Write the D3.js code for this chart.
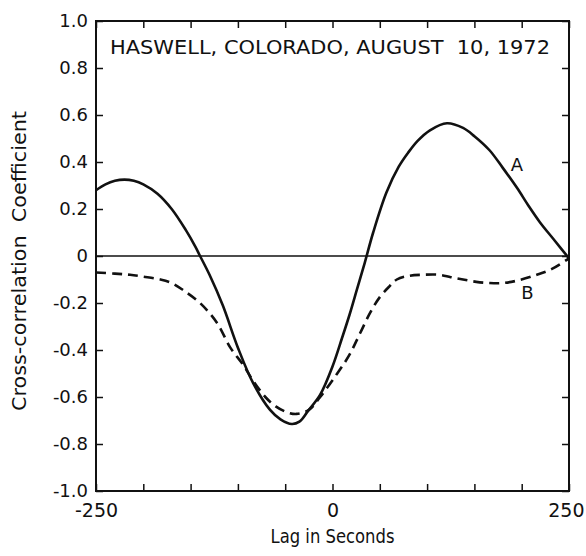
<!DOCTYPE html>
<html>
<head>
<meta charset="utf-8">
<script src="https://cdn.jsdelivr.net/npm/d3@7.9.0/dist/d3.min.js"></script>
<style>
  body { margin: 0; background: #fff; }
  svg { display: block; }
  text { font-family: "DejaVu Sans", sans-serif; fill: #111; }
</style>
</head>
<body>
<div id="chart"></div>
<script>
// curve A: solid line
const lagsA = [-250, -240, -230, -220, -210, -200, -185, -170, -155, -145, -140, -130, -116, -100, -84, -66, -55, -43, -35, -26, -13, 0, 10, 18, 26, 34, 43, 57, 70, 80, 90, 103, 121, 138, 150, 166, 180, 195, 207, 219, 235, 250];
const corrA = [0.28, 0.305, 0.32, 0.325, 0.32, 0.305, 0.265, 0.2, 0.11, 0.04, 0.0, -0.08, -0.21, -0.39, -0.54, -0.655, -0.695, -0.715, -0.705, -0.66, -0.59, -0.47, -0.35, -0.25, -0.14, -0.03, 0.1, 0.27, 0.38, 0.44, 0.49, 0.535, 0.565, 0.545, 0.51, 0.45, 0.375, 0.29, 0.215, 0.145, 0.065, -0.01];

// curve B: dashed line
const lagsB = [-250, -230, -214, -200, -182, -170, -158, -140, -122, -108, -95, -84, -71, -60, -48, -38, -25, -13, 5, 18, 29, 40, 50, 60, 68, 80, 95, 113, 125, 138, 152, 166, 180, 195, 216, 232, 250];
const corrB = [-0.07, -0.075, -0.08, -0.088, -0.1, -0.115, -0.145, -0.2, -0.285, -0.39, -0.46, -0.53, -0.6, -0.64, -0.665, -0.672, -0.655, -0.6, -0.5, -0.42, -0.33, -0.24, -0.175, -0.13, -0.1, -0.085, -0.08, -0.08, -0.09, -0.1, -0.11, -0.115, -0.115, -0.105, -0.08, -0.055, -0.01];

const xTicks = [-250, -200, -150, -100, -50, 0, 50, 100, 150, 200, 250];
const xLabels = [-250, 0, 250];
const yTicks = [-1.0, -0.8, -0.6, -0.4, -0.2, 0, 0.2, 0.4, 0.6, 0.8, 1.0];

const title = "HASWELL, COLORADO, AUGUST  10, 1972";

const width = 586, height = 556;
const margin = { top: 21, right: 17, bottom: 65, left: 96 };

const svg = d3.select("#chart")
  .append("svg")
  .attr("width", width)
  .attr("height", height);

const x = d3.scaleLinear().domain([-250, 250]).range([margin.left, width - margin.right]);
const y = d3.scaleLinear().domain([-1, 1]).range([height - margin.bottom, margin.top]);

const tick = 7;

// left axis with labels
svg.append("g")
  .attr("transform", `translate(${margin.left},0)`)
  .call(d3.axisLeft(y).tickValues(yTicks).tickSize(-tick).tickPadding(8)
    .tickFormat(d => d === 0 ? "0" : d.toFixed(1)))
  .call(g => g.select(".domain").remove())
  .call(g => g.selectAll("line").attr("stroke", "#111").attr("stroke-width", 1.5))
  .call(g => g.selectAll("text").attr("font-size", 18).attr("font-family", "DejaVu Sans"));

// right axis ticks
svg.append("g")
  .attr("transform", `translate(${width - margin.right},0)`)
  .call(d3.axisRight(y).tickValues(yTicks).tickSize(-tick).tickFormat(""))
  .call(g => g.select(".domain").remove())
  .call(g => g.selectAll("line").attr("stroke", "#111").attr("stroke-width", 1.5));

// top axis ticks
svg.append("g")
  .attr("transform", `translate(0,${margin.top})`)
  .call(d3.axisTop(x).tickValues(xTicks).tickSize(-tick).tickFormat(""))
  .call(g => g.select(".domain").remove())
  .call(g => g.selectAll("line").attr("stroke", "#111").attr("stroke-width", 1.5));

// bottom axis with labels; the last one is pulled in so it stays on the page
svg.append("g")
  .attr("transform", `translate(0,${height - margin.bottom})`)
  .call(d3.axisBottom(x).tickValues(xTicks).tickSize(-tick)
    .tickFormat(d => xLabels.includes(d) ? String(d) : ""))
  .call(g => g.select(".domain").remove())
  .call(g => g.selectAll("line").attr("stroke", "#111").attr("stroke-width", 1.5))
  .call(g => g.selectAll("text").attr("y", 26).attr("dy", 0)
    .attr("font-size", 19).attr("font-family", "DejaVu Sans"))
  .call(g => g.selectAll("text").filter(d => d === 250)
    .attr("text-anchor", "end").attr("x", 15));

// frame
svg.append("rect")
  .attr("x", x(-250))
  .attr("y", y(1))
  .attr("width", x(250) - x(-250))
  .attr("height", y(-1) - y(1))
  .attr("fill", "none")
  .attr("stroke", "#111")
  .attr("stroke-width", 2);

// zero line
svg.append("line")
  .attr("x1", x(-250))
  .attr("x2", x(250))
  .attr("y1", y(0))
  .attr("y2", y(0))
  .attr("stroke", "#111")
  .attr("stroke-width", 1.3);

const line = d3.line()
  .x(d => x(d[0]))
  .y(d => y(d[1]))
  .curve(d3.curveCatmullRom.alpha(0.5));

svg.append("path")
  .datum(d3.zip(lagsA, corrA))
  .attr("d", line)
  .attr("fill", "none")
  .attr("stroke", "#111")
  .attr("stroke-width", 2.6);

svg.append("path")
  .datum(d3.zip(lagsB, corrB))
  .attr("d", line)
  .attr("fill", "none")
  .attr("stroke", "#111")
  .attr("stroke-width", 2.6)
  .attr("stroke-dasharray", "10 6");

// curve labels
svg.append("text")
  .attr("x", x(195))
  .attr("y", y(0.387))
  .attr("dy", "0.35em")
  .attr("text-anchor", "middle")
  .attr("font-size", 18)
  .text("A");

svg.append("text")
  .attr("x", x(206))
  .attr("y", y(-0.157))
  .attr("dy", "0.35em")
  .attr("text-anchor", "middle")
  .attr("font-size", 18)
  .text("B");

// title inside the frame
svg.append("text")
  .attr("x", 110)
  .attr("y", 54)
  .attr("font-size", 19.5)
  .attr("textLength", 440)
  .attr("lengthAdjust", "spacingAndGlyphs")
  .style("white-space", "pre")
  .text(title);

// axis titles
svg.append("text")
  .attr("x", x(0))
  .attr("y", 543)
  .attr("text-anchor", "middle")
  .attr("font-size", 20)
  .attr("textLength", 124)
  .attr("lengthAdjust", "spacingAndGlyphs")
  .text("Lag in Seconds");

svg.append("text")
  .attr("transform", "translate(26,261) rotate(-90)")
  .attr("text-anchor", "middle")
  .attr("font-size", 19)
  .attr("textLength", 300)
  .attr("lengthAdjust", "spacingAndGlyphs")
  .text("Cross-correlation  Coefficient")
  .style("white-space", "pre");
</script>
</body>
</html>
